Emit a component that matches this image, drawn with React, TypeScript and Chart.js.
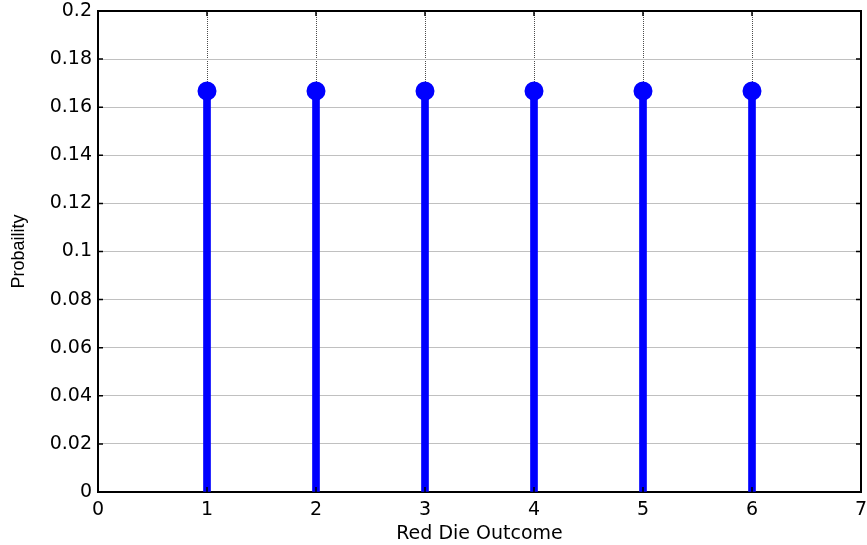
import React, { useEffect, useRef } from "react";
import { Chart, registerables } from "chart.js";

Chart.register(...registerables);

const outcomes = [1, 2, 3, 4, 5, 6];
const probabilities = [0.1667, 0.1667, 0.1667, 0.1667, 0.1667, 0.1667];
const yTickLabels = ["0", "0.02", "0.04", "0.06", "0.08", "0.1", "0.12", "0.14", "0.16", "0.18", "0.2"];
const xTickLabels = ["0", "1", "2", "3", "4", "5", "6", "7"];
const xTitle = "Red Die Outcome";
const yTitle = "Probaility";

const frame = {
  id: "frame",
  afterDatasetsDraw(chart: any) {
    const { ctx, chartArea, scales } = chart;
    ctx.save();
    ctx.strokeStyle = "#000";
    ctx.lineWidth = 2;
    ctx.beginPath();
    ctx.moveTo(chartArea.left, chartArea.top);
    ctx.lineTo(chartArea.right, chartArea.top);
    ctx.lineTo(chartArea.right, chartArea.bottom);
    ctx.stroke();
    // inward tick marks (MATLAB style)
    ctx.lineWidth = 1.5;
    ctx.beginPath();
    scales.y.ticks.forEach((t: any) => {
      const py = scales.y.getPixelForValue(t.value);
      ctx.moveTo(chartArea.left, py);
      ctx.lineTo(chartArea.left + 5, py);
      ctx.moveTo(chartArea.right, py);
      ctx.lineTo(chartArea.right - 5, py);
    });
    scales.x.ticks.forEach((t: any) => {
      const px = scales.x.getPixelForValue(t.value);
      ctx.moveTo(px, chartArea.top);
      ctx.lineTo(px, chartArea.top + 5);
      ctx.moveTo(px, chartArea.bottom);
      ctx.lineTo(px, chartArea.bottom - 5);
    });
    ctx.stroke();
    ctx.restore();
  },
};

export default function App() {
  const ref = useRef<HTMLCanvasElement | null>(null);
  useEffect(() => {
    document.body.style.margin = "0";
    const points = outcomes.map((x, i) => ({ x, y: probabilities[i] }));
    const chart = new Chart(ref.current as HTMLCanvasElement, {
      type: "bar",
      data: {
        datasets: [
          {
            type: "scatter",
            data: points,
            backgroundColor: "#0000ff",
            borderColor: "#0000ff",
            pointRadius: 8.5,
            borderWidth: 2,
            order: 0,
          } as any,
          {
            type: "bar",
            data: points,
            backgroundColor: "#0000ff",
            barThickness: 7,
            order: 1,
          } as any,
        ],
      },
      options: {
        animation: false,
        responsive: false,
        maintainAspectRatio: false,
        layout: { autoPadding: false, padding: { left: 0, right: 6, top: 11, bottom: 0 } },
        plugins: { legend: { display: false }, tooltip: { enabled: false } },
        scales: {
          x: {
            type: "linear",
            min: 0,
            max: 7,
            offset: false,
            grid: { offset: false, drawTicks: false, color: "rgba(0,0,0,0.7)", lineWidth: 1 },
            border: { color: "#000", width: 2, dash: [1, 1] },
            ticks: {
              stepSize: 1,
              padding: 7,
              color: "#000",
              font: { family: "DejaVu Sans", size: 19 },
              callback: (v: any) => xTickLabels[Math.round(Number(v))] ?? "",
            },
            title: {
              display: true,
              text: xTitle,
              color: "#000",
              font: { family: "DejaVu Sans", size: 19 },
              padding: { top: 0, bottom: 0 },
            },
            afterFit: (s: any) => {
              s.height = 53;
              s.paddingLeft = 0;
              s.paddingRight = 0;
            },
          },
          y: {
            min: 0,
            max: 0.2,
            grid: { drawTicks: false, color: "#c0c0c0", lineWidth: 1 },
            border: { color: "#000", width: 2 },
            ticks: {
              stepSize: 0.02,
              padding: 6,
              color: "#000",
              font: { family: "DejaVu Sans", size: 19 },
              callback: (v: any) => yTickLabels[Math.round(Number(v) / 0.02)] ?? "",
            },
            title: {
              display: true,
              text: yTitle,
              color: "#000",
              font: { family: "Liberation Sans", size: 18 },
              padding: { top: 8, bottom: 0 },
            },
            afterFit: (s: any) => {
              s.width = 98;
              s.paddingTop = 0;
              s.paddingBottom = 0;
            },
          },
        },
      } as any,
      plugins: [frame],
    });
    const meta: any = chart.getDatasetMeta(0);
    meta.controller.getMaxOverflow = () => 0;
    chart.update();
    return () => chart.destroy();
  }, []);
  return (
    <div style={{ width: 867, height: 545 }}>
      <canvas ref={ref} width={867} height={545} style={{ display: "block" }} />
    </div>
  );
}
